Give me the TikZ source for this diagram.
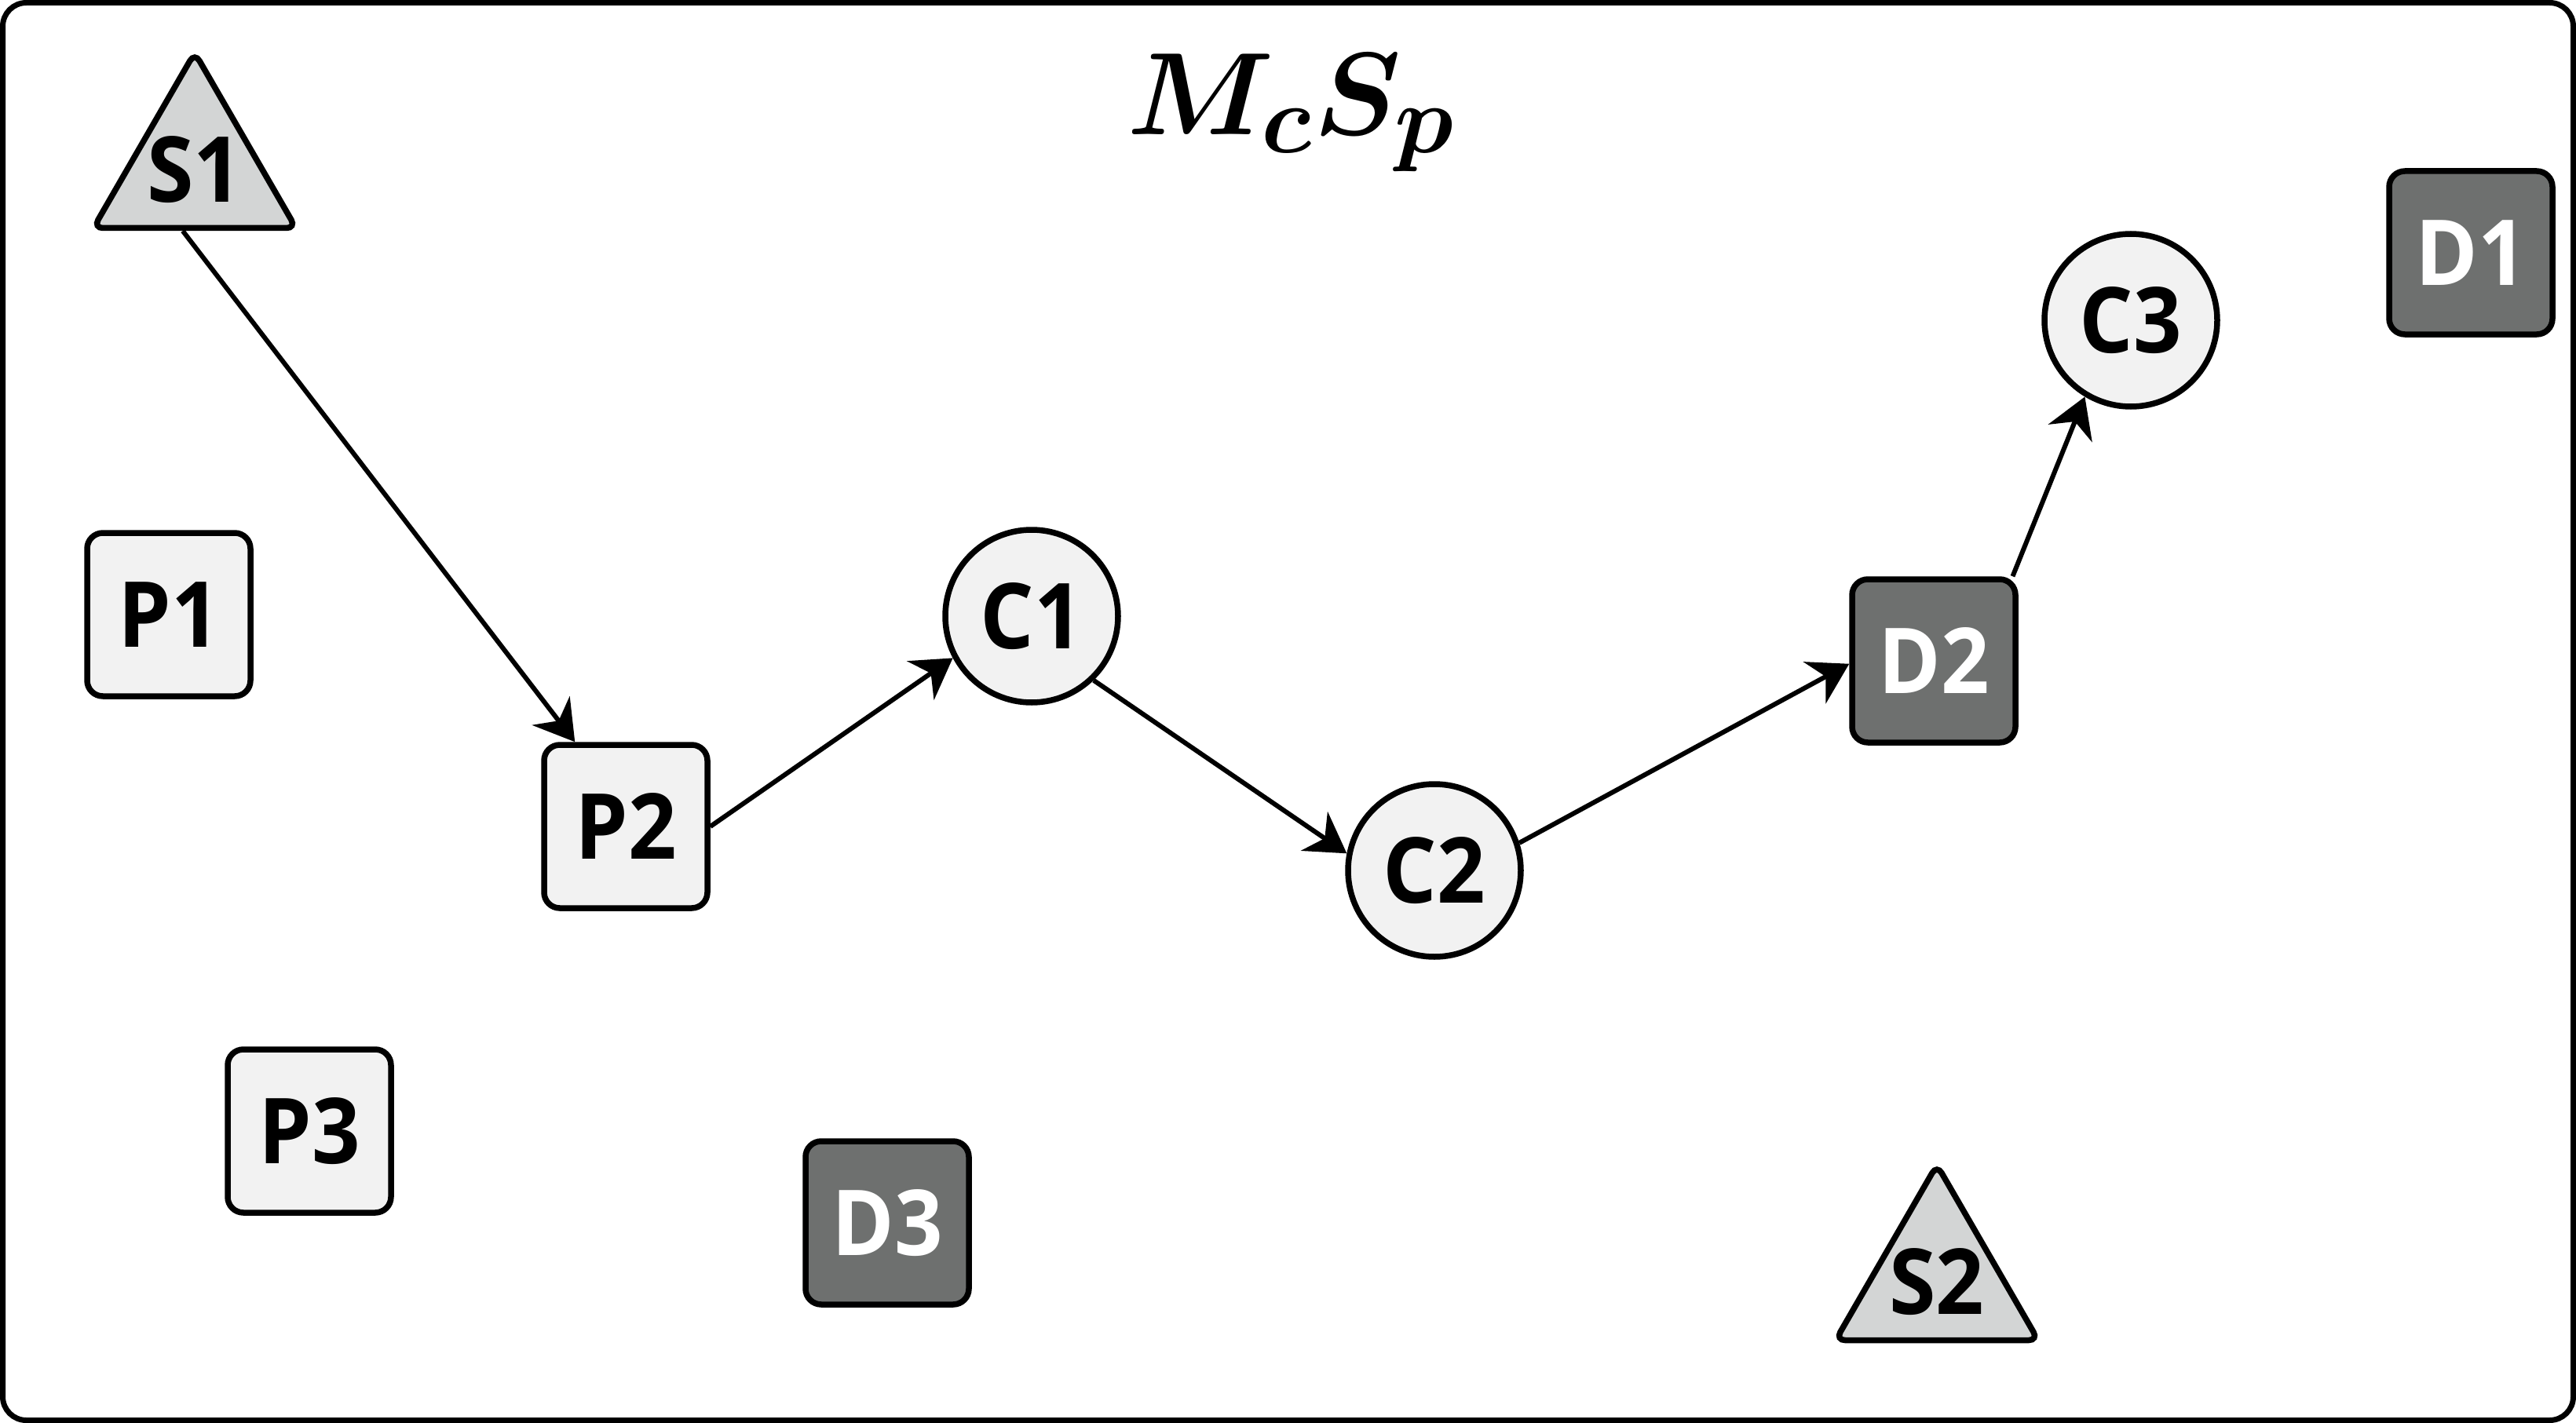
\documentclass[tikz,border=0pt]{standalone}
\usepackage{fontspec}
\newfontfamily\lblfontbase{Open Sans}[FakeStretch=0.93]
\newcommand{\lblfont}{\lblfontbase\bfseries}
\usetikzlibrary{arrows.meta,shapes.geometric}
\definecolor{lightfill}{RGB}{242,242,242}
\definecolor{trifill}{RGB}{211,213,213}
\definecolor{darkfill}{RGB}{110,112,111}
\newcommand{\nodelabelfont}{\fontsize{33}{40}\selectfont\lblfont}
\newcommand{\mytitlefont}{\Huge\boldmath}
\tikzset{
  basenode/.style={draw=black, line width=0.075cm, font=\nodelabelfont, inner sep=0pt},
  procbox/.style={basenode, rectangle, rounded corners=0.2cm, minimum size=2.08cm, fill=lightfill},
  darkbox/.style={basenode, rectangle, rounded corners=0.2cm, minimum size=2.08cm, fill=darkfill, text=white},
  circnode/.style={basenode, circle, minimum size=2.2cm, fill=lightfill},
  trinode/.style={basenode, regular polygon, regular polygon sides=3, minimum size=2.98cm, fill=trifill, rounded corners=0.12cm},
  conn/.style={line width=0.06cm, -{Stealth[length=0.5cm,width=0.6cm,inset=0.16cm]}}
}
\begin{document}
\begin{tikzpicture}
\useasboundingbox (0,0) rectangle (32.81,-18.13);
\draw[line width=0.07cm, rounded corners=0.3cm] (0.035,-0.035) rectangle (32.775,-18.095);
\node[anchor=base, font=\mytitlefont, scale=1.71, transform shape] (title) at (16.45,-1.72) {$M_cS_p$};

\node[trinode, label={[font=\nodelabelfont]center:S1}] (S1) at (2.48,-2.16) {};
\node[trinode, label={[font=\nodelabelfont]center:S2}] (S2) at (24.67,-16.33) {};
\node[procbox] (P1) at (2.15,-7.83) {P1};
\node[procbox] (P2) at (7.97,-10.53) {P2};
\node[procbox] (P3) at (3.94,-14.41) {P3};
\node[darkbox] (D1) at (31.47,-3.22) {D1};
\node[darkbox] (D2) at (24.63,-8.42) {D2};
\node[darkbox] (D3) at (11.30,-15.58) {D3};
\node[circnode] (C1) at (13.14,-7.85) {C1};
\node[circnode] (C2) at (18.27,-11.09) {C2};
\node[circnode] (C3) at (27.14,-4.08) {C3};

\draw[conn] (S1.259) -- (P2.121);
\draw[conn] (P2.east) -- (C1.208);
\draw[conn] (C1.-46) -- (C2.169);
\draw[conn] (C2.18) -- (D2.182);
\draw[conn] (D2.47) -- (C3.239);
\end{tikzpicture}
\end{document}
